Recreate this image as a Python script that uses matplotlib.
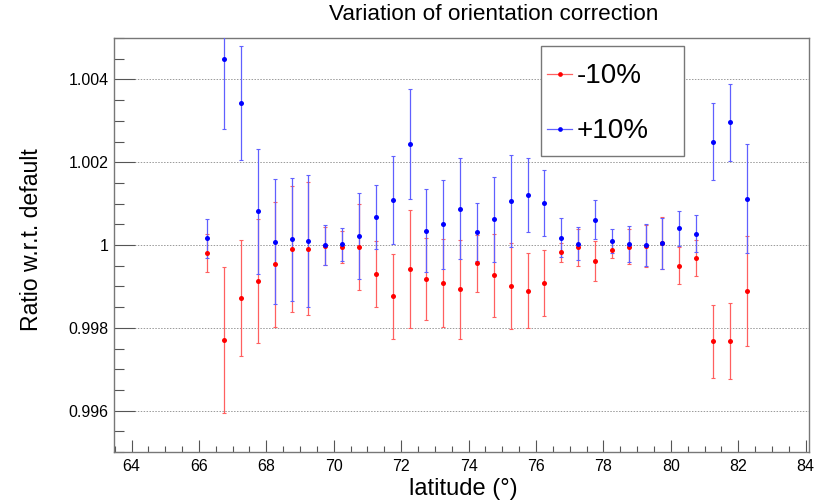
import matplotlib
matplotlib.use("Agg")
import matplotlib.pyplot as plt
from matplotlib.ticker import MultipleLocator, FuncFormatter
from matplotlib.lines import Line2D
from matplotlib.patches import Rectangle

plt.rcParams['font.family'] = ['Liberation Sans', 'DejaVu Sans']

latitude = [66.25, 66.75, 67.25, 67.75, 68.25, 68.75, 69.25, 69.75, 70.25, 70.75,
            71.25, 71.75, 72.25, 72.75, 73.25, 73.75, 74.25, 74.75, 75.25, 75.75,
            76.25, 76.75, 77.25, 77.75, 78.25, 78.75, 79.25, 79.75, 80.25, 80.75,
            81.25, 81.75, 82.25]

# ratio for the -10% variation
minus_ratio = [0.99981, 0.99770, 0.99872, 0.99914, 0.99953, 0.99991, 0.99991, 0.99998,
               0.99995, 0.99995, 0.99930, 0.99876, 0.99942, 0.99918, 0.99908, 0.99893,
               0.99956, 0.99927, 0.99901, 0.99890, 0.99909, 0.99982, 0.99994, 0.99962,
               0.99988, 0.99996, 0.99998, 1.00005, 0.99950, 0.99968, 0.99767, 0.99768,
               0.99889]
minus_err = [0.00046, 0.00176, 0.00141, 0.00150, 0.00150, 0.00152, 0.00161, 0.00046,
             0.00039, 0.00103, 0.00080, 0.00103, 0.00142, 0.00100, 0.00107, 0.00120,
             0.00069, 0.00100, 0.00105, 0.00091, 0.00080, 0.00024, 0.00044, 0.00048,
             0.00020, 0.00043, 0.00050, 0.00062, 0.00045, 0.00044, 0.00089, 0.00091,
             0.00133]

# ratio for the +10% variation
plus_ratio = [1.00016, 1.00450, 1.00343, 1.00081, 1.00008, 1.00014, 1.00010, 1.00000,
              1.00002, 1.00022, 1.00068, 1.00108, 1.00244, 1.00035, 1.00050, 1.00088,
              1.00032, 1.00062, 1.00106, 1.00121, 1.00101, 1.00018, 1.00003, 1.00061,
              1.00010, 1.00002, 1.00000, 1.00004, 1.00040, 1.00027, 1.00250, 1.00296,
              1.00112]
plus_err = [0.00047, 0.00171, 0.00138, 0.00151, 0.00151, 0.00149, 0.00160, 0.00048,
            0.00040, 0.00104, 0.00078, 0.00106, 0.00133, 0.00100, 0.00107, 0.00122,
            0.00070, 0.00103, 0.00112, 0.00090, 0.00079, 0.00047, 0.00040, 0.00047,
            0.00029, 0.00043, 0.00050, 0.00062, 0.00043, 0.00045, 0.00092, 0.00092,
            0.00131]

series_labels = ["-10%", "+10%"]
series_colors = ["#ff0000", "#0000ff"]
bar_colors = ["#ff6060", "#6060ff"]

W, H = 830, 504
fig = plt.figure(figsize=(W / 100, H / 100), dpi=100)
ax = fig.add_axes([114 / W, 1 - 452 / H, (809 - 114) / W, (452 - 38) / H])

for y, e, c, bc in [(minus_ratio, minus_err, series_colors[0], bar_colors[0]),
                    (plus_ratio, plus_err, series_colors[1], bar_colors[1])]:
    ax.errorbar(latitude, y, yerr=e, fmt='none', ecolor=bc, elinewidth=0.9,
                capsize=1.2, capthick=0.8, zorder=3)
    ax.plot(latitude, y, 'o', color=c, markersize=3.6, markeredgewidth=0, zorder=4)

ax.set_xlim(63.48, 84.1)
ax.set_ylim(0.995, 1.005)

ax.xaxis.set_major_locator(MultipleLocator(2))
ax.xaxis.set_minor_locator(MultipleLocator(0.5))
ax.yaxis.set_major_locator(MultipleLocator(0.002))
ax.yaxis.set_minor_locator(MultipleLocator(0.0005))
ax.yaxis.set_major_formatter(FuncFormatter(lambda v, p: ('%.3f' % v).rstrip('0').rstrip('.')))
ax.xaxis.set_major_formatter(FuncFormatter(lambda v, p: '%d' % round(v)))

ax.tick_params(axis='both', which='both', direction='in', color='#555555',
               labelsize=11.5, top=False, right=False)
ax.tick_params(axis='y', which='major', length=15, width=0.8, pad=4)
ax.tick_params(axis='y', which='minor', length=7.5, width=0.8)
ax.tick_params(axis='x', which='major', length=8.6, width=0.8, pad=5)
ax.tick_params(axis='x', which='minor', length=4.3, width=0.8)

ax.yaxis.grid(True, which='major', linestyle=(0, (1.5, 1.5)), color='#999999', linewidth=0.7)
ax.set_axisbelow(True)
for s in ax.spines.values():
    s.set_color('#777777')
    s.set_linewidth(1.0)

fig.text(494 / W, 1 - 15 / H, "Variation of orientation correction",
         ha='center', va='center', fontsize=16.2)
fig.text(32 / W, 1 - 240 / H, "Ratio w.r.t. default", rotation=90,
         ha='center', va='center', fontsize=16.6)
fig.text(463 / W, 1 - 489 / H, "latitude (°)", ha='center', va='center', fontsize=17)


def px(x, y):
    return x / W, 1 - y / H


# legend box with line+marker samples
x0, y0 = px(541, 156)
x1, y1 = px(684, 46)
fig.add_artist(Rectangle((x0, y0), x1 - x0, y1 - y0, transform=fig.transFigure,
                         facecolor='white', edgecolor='#777777', linewidth=1.0, zorder=5))
for label, c, bc, ry in zip(series_labels, series_colors, bar_colors, [74, 129]):
    lx0, ly = px(547, ry)
    lx1, _ = px(572, ry)
    fig.add_artist(Line2D([lx0, lx1], [ly, ly], transform=fig.transFigure,
                          color=bc, linewidth=0.9, zorder=6))
    fig.add_artist(Line2D([(lx0 + lx1) / 2], [ly], transform=fig.transFigure,
                          color=c, marker='o', markersize=3.4, markeredgewidth=0, zorder=7))
    tx, ty = px(577, ry + 2)
    fig.text(tx, ty, label, ha='left', va='center', fontsize=20, zorder=7)

fig.savefig("out.png", dpi=100)
